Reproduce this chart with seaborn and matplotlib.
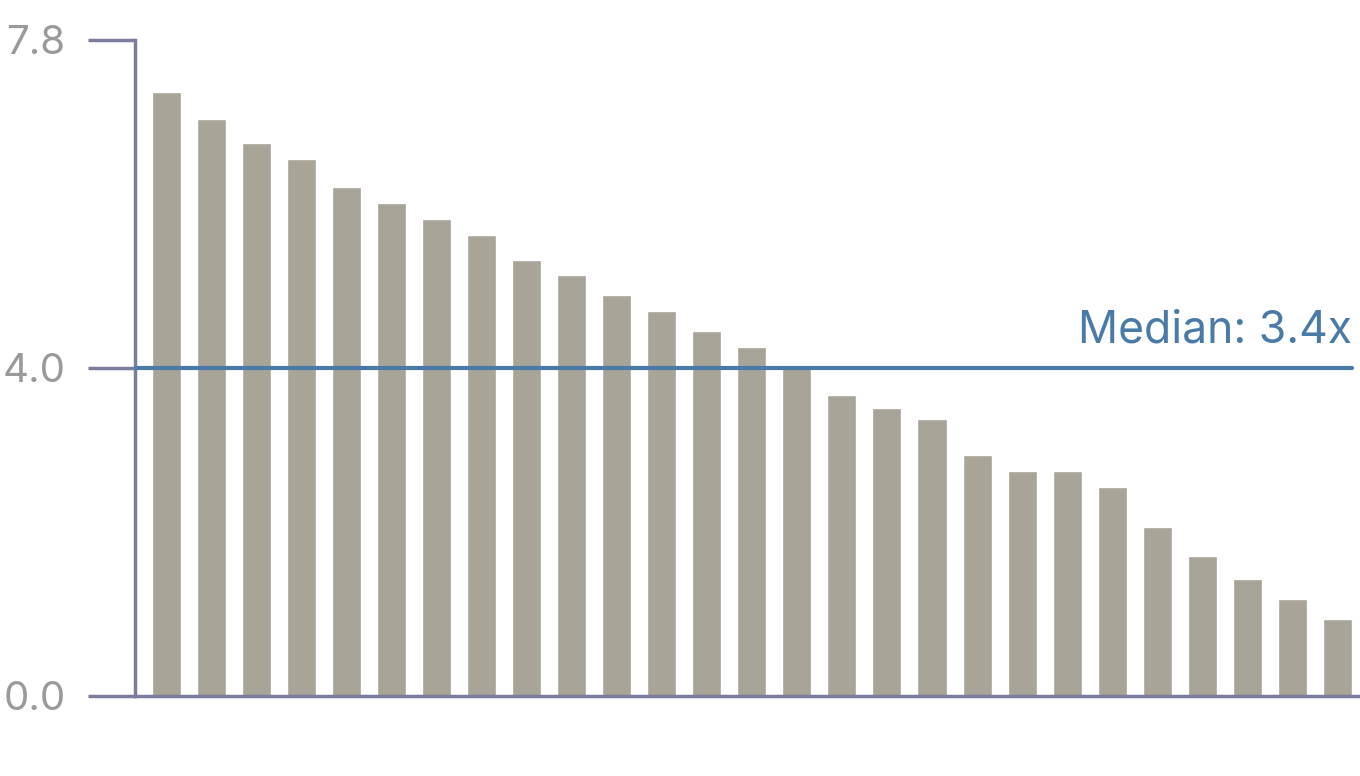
import seaborn as sns
import matplotlib.pyplot as plt
import pandas as pd

# values, sorted high to low
ranks = list(range(27))
values = [7.18, 6.86, 6.57, 6.38, 6.05, 5.86, 5.67, 5.48, 5.19, 5.00,
          4.77, 4.58, 4.34, 4.15, 3.90, 3.58, 3.43, 3.29, 2.86, 2.67,
          2.67, 2.48, 2.01, 1.67, 1.39, 1.15, 0.91]
ytick_values = [0.0, 3.9, 7.8]
ytick_labels = ["0.0", "4.0", "7.8"]
median_line = 3.9
median_label = "Median: 3.4x"

BAR = "#a8a498"
AXIS = "#7c7c9c"
BLUE = "#4a7aa7"
GREY = "#9a9a9a"

df = pd.DataFrame({"rank": ranks, "value": values})

sns.set_theme(style="white")
plt.rcParams["font.family"] = ["Inter", "DejaVu Sans"]

fig = plt.figure(figsize=(13.6, 7.76), dpi=100)
ax = fig.add_axes([135 / 1360, 1 - 696 / 776, 1 - 135 / 1360, (696 - 40) / 776])

sns.barplot(data=df, x="rank", y="value", color=BAR, saturation=1,
            width=0.644, ax=ax)

ax.set_xlim(-0.69, 26.5)
ax.set_ylim(0, 7.8)

ax.axhline(median_line, xmin=0, xmax=0.9935, color=BLUE, lw=3, zorder=3)
ax.text(0.9935, median_line + 0.3, median_label, transform=ax.get_yaxis_transform(),
        ha="right", va="baseline", color=BLUE, fontsize=32)

ax.set_yticks(ytick_values)
ax.set_yticklabels(ytick_labels)
ax.tick_params(axis="y", length=34, width=2.5, color=AXIS, pad=16,
               labelsize=29, labelcolor=GREY, left=True)
ax.set_xticks([])
ax.set_xlabel("")
ax.set_ylabel("")

for side in ["top", "right"]:
    ax.spines[side].set_visible(False)
for side in ["left", "bottom"]:
    ax.spines[side].set_color(AXIS)
    ax.spines[side].set_linewidth(2.5)

fig.savefig("out.png", dpi=100)
